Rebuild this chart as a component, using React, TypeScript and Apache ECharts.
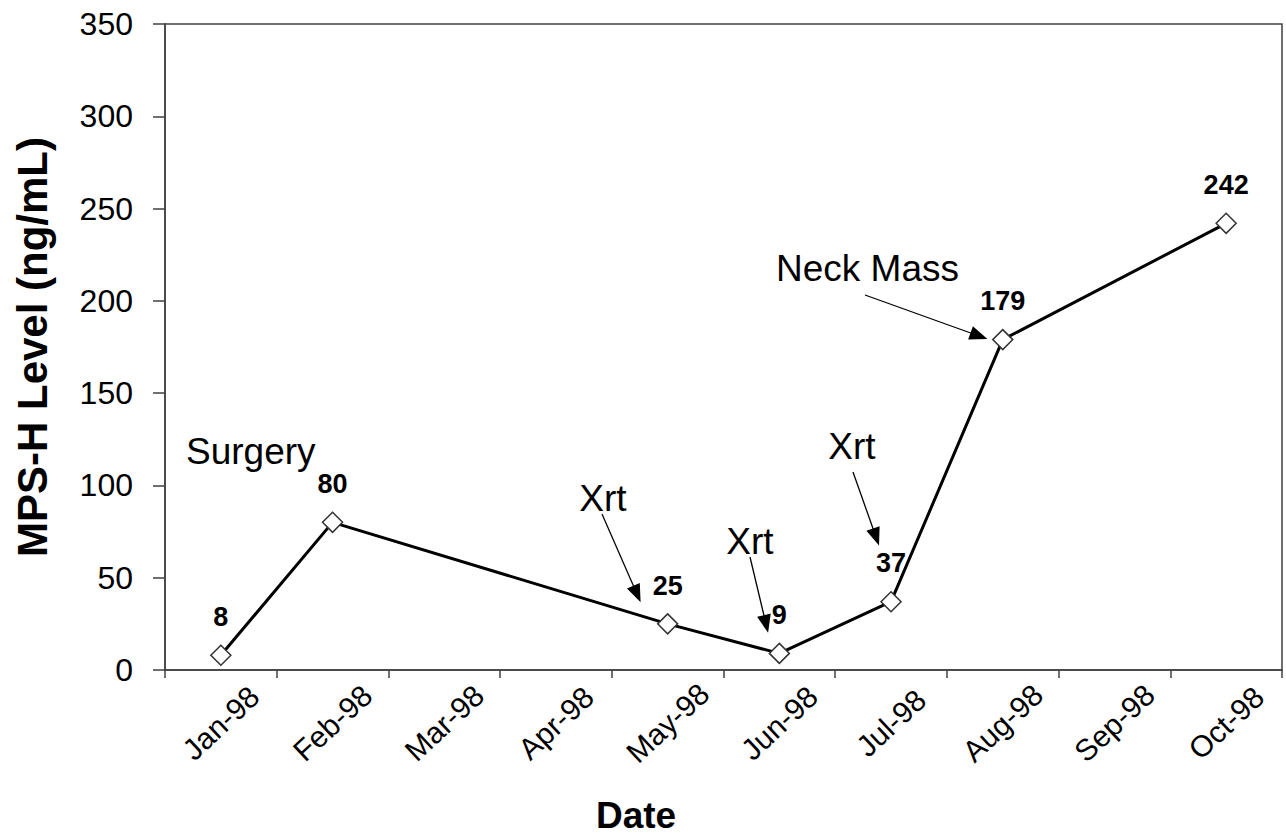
import React, { useEffect, useRef } from "react";
import * as echarts from "echarts";

const months = ["Jan-98", "Feb-98", "Mar-98", "Apr-98", "May-98", "Jun-98", "Jul-98", "Aug-98", "Sep-98", "Oct-98"];
const mpsLevels: (number | null)[] = [8, 80, null, null, 25, 9, 37, 179, null, 242];
const yTicks = [0, 50, 100, 150, 200, 250, 300, 350];

const annotations = [
  { text: "Surgery", x: 186, y: 451, align: "left" },
  { text: "Xrt", x: 603, y: 498, align: "center" },
  { text: "Xrt", x: 750, y: 541, align: "center" },
  { text: "Xrt", x: 852, y: 446, align: "center" },
  { text: "Neck Mass", x: 776, y: 268, align: "left" },
];

const arrows = [
  { from: [602, 514], to: [637, 594] },
  { from: [750, 557], to: [766, 624] },
  { from: [853, 472], to: [876, 537] },
  { from: [865, 295], to: [979, 336] },
];

const FONT = "'Liberation Sans', Arial, sans-serif";

export default function App() {
  const ref = useRef<HTMLDivElement>(null);
  useEffect(() => {
    if (!ref.current) return;
    const chart = echarts.init(ref.current, null, { renderer: "svg" });
    chart.setOption({
      animation: false,
      backgroundColor: "#ffffff",
      textStyle: { fontFamily: FONT },
      grid: {
        left: 165,
        top: 24,
        width: 1117,
        height: 646,
        show: true,
        borderColor: "#404040",
        borderWidth: 1.5,
        backgroundColor: "transparent",
      },
      xAxis: {
        type: "category",
        data: months,
        boundaryGap: true,
        axisLine: { lineStyle: { color: "#404040", width: 1.5 } },
        axisTick: { show: true, alignWithLabel: false, length: 8, lineStyle: { color: "#404040", width: 1.5 } },
        axisLabel: {
          interval: 0,
          rotate: 43,
          margin: 53,
          align: "center",
          verticalAlign: "middle",
          color: "#000",
          fontSize: 30,
          fontFamily: FONT,
        },
        splitLine: { show: false },
      },
      yAxis: {
        type: "value",
        min: 0,
        max: 350,
        interval: 50,
        name: "MPS-H Level (ng/mL)",
        nameLocation: "middle",
        nameGap: 112,
        nameTextStyle: { fontSize: 42, fontWeight: "bold", color: "#000", fontFamily: FONT },
        axisLine: { show: true, lineStyle: { color: "#404040", width: 1.5 } },
        axisTick: { show: true, length: 12, lineStyle: { color: "#404040", width: 1.5 } },
        axisLabel: {
          margin: 32,
          color: "#000",
          fontSize: 32,
          fontFamily: FONT,
          formatter: (v: number) => (yTicks.includes(v) ? String(v) : ""),
        },
        splitLine: { show: false },
      },
      series: [
        {
          type: "line",
          data: mpsLevels,
          connectNulls: true,
          symbol: "diamond",
          symbolSize: 20,
          lineStyle: { color: "#000", width: 3 },
          itemStyle: { color: "#ffffff", borderColor: "#333", borderWidth: 1.5 },
          label: {
            show: true,
            position: "top",
            distance: 14,
            color: "#000",
            fontSize: 27,
            fontWeight: "bold",
            fontFamily: FONT,
          },
          markLine: {
            silent: true,
            symbol: ["none", "triangle"],
            symbolSize: [14, 18],
            label: { show: false },
            lineStyle: { color: "#000", width: 1.3, type: "solid" },
            data: arrows.map((a) => [
              { x: a.from[0], y: a.from[1] },
              { x: a.to[0], y: a.to[1] },
            ]),
          },
          z: 3,
        },
      ],
      graphic: [
        ...annotations.map((a) => ({
          type: "text",
          x: a.x,
          y: a.y,
          style: {
            text: a.text,
            fontSize: 37,
            fontFamily: FONT,
            fill: "#000",
            textAlign: a.align,
            textVerticalAlign: "middle",
          },
          z: 10,
        })),
        {
          type: "text",
          x: 636,
          y: 815,
          style: {
            text: "Date",
            fontSize: 37,
            fontWeight: "bold",
            fontFamily: FONT,
            fill: "#000",
            textAlign: "center",
            textVerticalAlign: "middle",
          },
        },
      ],
    });
    return () => chart.dispose();
  }, []);
  return (
    <div
      ref={ref}
      style={{ position: "fixed", left: 0, top: 0, width: 1286, height: 838, background: "#fff" }}
    />
  );
}
